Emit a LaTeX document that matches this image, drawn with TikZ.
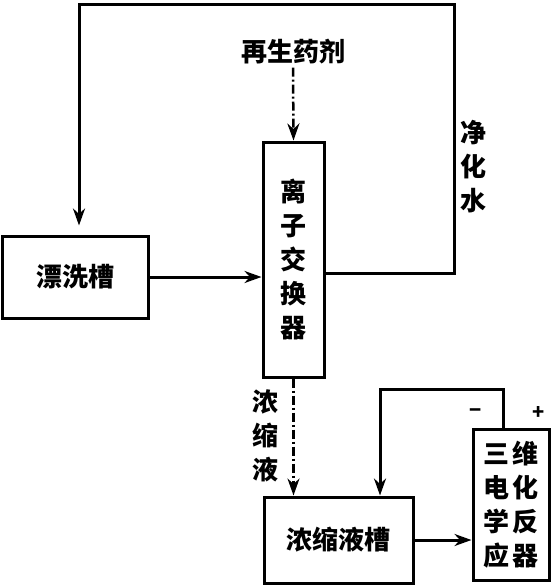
\documentclass[tikz,border=0pt]{standalone}
\usepackage{fontspec}
\newfontfamily\hei{Noto Sans CJK SC}
\usetikzlibrary{arrows.meta}

\begin{document}
\begin{tikzpicture}[
    x=1pt, y=-1pt,
    box/.style={draw, line width=3pt, inner sep=0pt, align=center,
                font=\hei\bfseries\fontsize{26}{34}\selectfont},
    lab/.style={inner sep=0pt, align=center, font=\hei\bfseries\fontsize{26}{34}\selectfont},
    arrow/.style={-{Stealth[length=17pt,width=12pt]}, line width=3pt},
    dasharrow/.style={-{Stealth[length=17pt,width=12pt]}, line width=2.5pt,
                      dash pattern=on 9pt off 3pt on 2pt off 3pt}
  ]
    \useasboundingbox (0,0) rectangle (551,586);
    \node[box, minimum width=146pt, minimum height=82pt] (rinse) at (75,277) {漂洗槽};
    \node[box, minimum width=61pt, minimum height=235pt] (ionx) at (293.5,259.5) {离\\子\\交\\换\\器};
    \node[box, minimum width=149pt, minimum height=86pt] (tank) at (338.5,540) {浓缩液槽};
    \node[box, minimum width=76pt, minimum height=151pt] (reactor) at (511,504.5)
      {三\hspace{3pt}维\\电\hspace{3pt}化\\学\hspace{3pt}反\\应\hspace{3pt}器};
    \node[lab] (regen) at (293,52) {再生药剂};
    \node[lab] (water) at (473,167) {净\\化\\水};
    \node[lab] (conc) at (265,436) {浓\\缩\\液};
    \node[lab, font=\hei\bfseries\fontsize{20}{20}\selectfont] (minus) at (476,413) {−};
    \node[lab, font=\hei\bfseries\fontsize{20}{20}\selectfont] (plus) at (539,413) {+};
    \coordinate (tr) at (454,5);
    \coordinate (rl) at (380,389);
    \draw[arrow] (rinse.east) -- (rinse.east -| ionx.west);
    \draw[arrow, shorten >=9pt] ([yshift=4pt]ionx.east |- rinse.east) -| (tr) -| ([xshift=4pt]rinse.north);
    \draw[dasharrow] ([yshift=-3pt]regen.south) -- (ionx.north);
    \draw[dasharrow] (ionx.south) -- (ionx.south |- tank.north);
    \draw[arrow] (tank.east) -- (tank.east -| reactor.west);
    \draw[arrow] ([xshift=-8pt]reactor.north) |- (rl) -- (rl |- tank.north);
  \end{tikzpicture}
\end{document}
